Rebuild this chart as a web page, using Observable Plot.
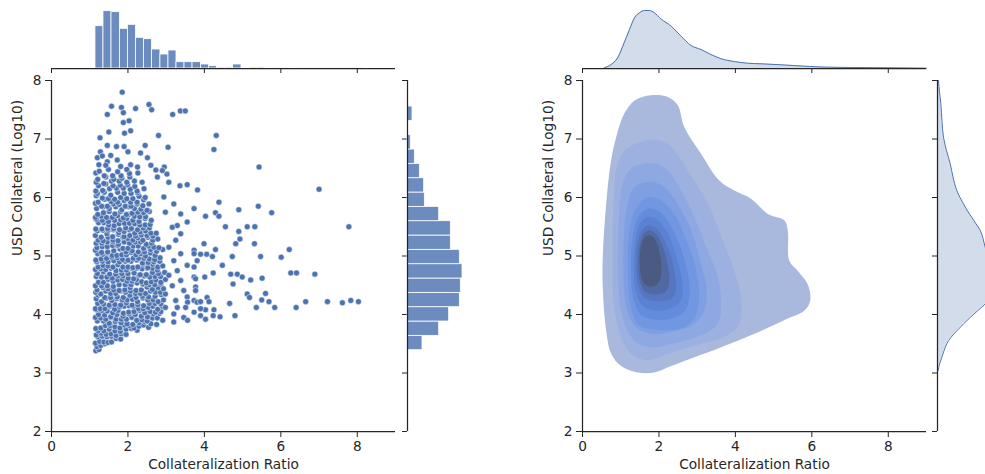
<!DOCTYPE html>
<html><head><meta charset="utf-8">
<script src="https://cdn.jsdelivr.net/npm/d3@7"></script>
<script src="https://cdn.jsdelivr.net/npm/@observablehq/plot@0.6"></script>
<style>
html,body{margin:0;padding:0;background:#fff;overflow:hidden;}
#chart{position:relative;width:985px;height:474px;overflow:hidden;background:#fff;}
.panel{position:absolute;top:0;}
</style></head><body><div id="chart"></div>
<script>
// ---------------- data ----------------
const xLabel = "Collateralization Ratio";
const yLabel = "USD Collateral (Log10)";
const xTicks = [0, 2, 4, 6, 8];
const yTicks = [2, 3, 4, 5, 6, 7, 8];

// marginal histogram of Collateralization Ratio (bin edges, counts)
const ratioBinEdges = [1.15,1.36,1.57,1.79,2.00,2.21,2.42,2.63,2.85,3.06,3.27,3.48,3.69,3.91,4.12,4.33,4.54,4.75,4.97,5.18,5.39,5.60,5.81,6.03,6.24,6.45,6.66,6.87,7.09,7.30,7.51,7.72,7.93,8.15];
const ratioBinCounts = [127,172,169,119,131,92,88,57,42,54,19,19,19,12,7,3,3,12,0,3,3,2,1,1,2,1,1,1,1,1,1,1,1];

// marginal histogram of USD Collateral (Log10)
const usdBinEdges = [3.39,3.635,3.88,4.125,4.37,4.615,4.86,5.105,5.35,5.595,5.84,6.085,6.33,6.575,6.82,7.065,7.31,7.555,7.80];
const usdBinCounts = [45,95,125,157,160,165,157,130,130,95,52,50,37,22,10,1,15,1];

// marginal KDE curves (relative density)
const kdeRatioGrid = [0.57,0.75,0.92,1.09,1.23,1.36,1.49,1.62,1.75,1.88,2.05,2.32,2.58,2.84,3.10,3.36,3.63,3.97,4.32,4.67,5.20,5.81,6.42,7.10,7.99,9.00];
const kdeRatioDensity = [0.7,4,10.7,25.7,39,50.7,55.7,58,58,55.7,49.7,42.3,32.3,23,19,14,9.7,7,5.3,4.7,3.7,2.3,1.3,1,0.7,0.3];
const kdeUsdGrid = [3.04,3.15,3.27,3.38,3.50,3.61,3.72,3.84,3.95,4.07,4.18,4.30,4.45,4.60,4.75,4.90,5.02,5.15,5.30,5.44,5.55,5.66,5.77,5.89,6.00,6.12,6.35,6.58,6.80,7.03,7.30,7.61,7.80,8.00];
const kdeUsdDensity = [0.5,2,4.3,6.5,9.3,13.5,19.3,26,32.7,40.5,47.7,53,57,58.5,57.5,54,50.5,47.7,45.5,42.7,38.5,34.3,30,26,22.5,19.3,15.5,12.7,9,6,4.5,3.3,2,1];

// bivariate KDE filled levels (outer -> inner), vertices [ratio, log10 usd]
const kdeLevels = [
 [[1.79,7.75],[1.36,7.66],[1.09,7.43],[0.88,7.03],[0.75,6.64],[0.62,5.89],[0.53,4.98],[0.53,4.47],[0.62,3.72],[0.75,3.33],[1.01,3.12],[1.44,3.01],[1.88,3.01],[2.32,3.12],[2.93,3.27],[3.63,3.44],[4.50,3.67],[5.37,3.93],[5.81,4.07],[5.96,4.24],[5.89,4.52],[5.63,4.75],[5.41,4.92],[5.37,5.44],[5.28,5.61],[4.85,5.72],[4.41,5.98],[3.97,6.12],[3.58,6.29],[3.10,6.75],[2.66,7.21],[2.49,7.58],[2.23,7.72]],
 [[1.71,6.98],[1.18,6.84],[0.92,6.58],[0.81,5.89],[0.78,4.98],[0.82,4.18],[1.01,3.61],[1.27,3.33],[1.71,3.22],[2.23,3.33],[3.10,3.50],[3.71,3.61],[4.10,3.84],[4.15,4.29],[3.97,4.75],[3.71,5.21],[3.28,5.89],[2.75,6.46],[2.40,6.81],[2.14,6.95]],
 [[1.62,6.58],[1.27,6.49],[1.05,6.24],[0.95,5.61],[0.92,4.75],[1.01,4.07],[1.18,3.72],[1.44,3.50],[1.88,3.44],[2.49,3.52],[3.19,3.67],[3.54,3.84],[3.63,4.18],[3.54,4.64],[3.28,5.09],[2.93,5.66],[2.58,6.12],[2.23,6.46],[1.97,6.57]],
 [[1.66,6.26],[1.36,6.18],[1.18,5.89],[1.08,5.32],[1.07,4.64],[1.17,4.07],[1.40,3.78],[1.79,3.67],[2.32,3.70],[2.84,3.81],[3.15,4.01],[3.25,4.41],[3.10,4.87],[2.84,5.44],[2.49,5.89],[2.14,6.18],[1.88,6.26]],
 [[1.71,6.01],[2.05,5.95],[2.40,5.72],[2.72,5.27],[2.98,4.75],[3.05,4.30],[2.93,3.95],[2.58,3.76],[1.97,3.74],[1.46,3.82],[1.24,4.22],[1.18,4.81],[1.22,5.38],[1.40,5.82]],
 [[1.72,5.81],[2.00,5.76],[2.28,5.55],[2.56,5.15],[2.76,4.70],[2.80,4.35],[2.70,4.08],[2.42,3.95],[1.95,3.91],[1.52,4.00],[1.32,4.32],[1.27,4.82],[1.31,5.30],[1.45,5.66]],
 [[1.72,5.67],[1.96,5.62],[2.20,5.42],[2.42,5.06],[2.58,4.66],[2.62,4.38],[2.52,4.19],[2.28,4.10],[1.92,4.07],[1.58,4.15],[1.39,4.42],[1.34,4.85],[1.38,5.25],[1.50,5.55]],
 [[1.72,5.52],[1.93,5.47],[2.13,5.28],[2.32,4.98],[2.43,4.65],[2.44,4.42],[2.35,4.28],[2.15,4.24],[1.88,4.23],[1.62,4.29],[1.45,4.52],[1.40,4.87],[1.43,5.20],[1.55,5.43]],
 [[1.73,5.44],[1.90,5.39],[2.06,5.22],[2.20,4.95],[2.27,4.66],[2.25,4.47],[2.15,4.38],[1.98,4.35],[1.80,4.35],[1.62,4.40],[1.50,4.58],[1.46,4.88],[1.49,5.17],[1.59,5.37]],
 [[1.74,5.36],[1.87,5.31],[1.98,5.15],[2.05,4.93],[2.06,4.70],[2.00,4.56],[1.88,4.49],[1.74,4.48],[1.61,4.53],[1.53,4.65],[1.50,4.88],[1.52,5.12],[1.61,5.30]]
];
const kdeLevelColors = ["#a9b9de","#9cb1e0","#8ea8e2","#809fe3","#7196e2","#638cdd","#5a81d2","#5676bf","#5169a3","#4a5a80"];

// scatter: dense core of points [ratio, log10 usd]
const scatterCorePoints = [
 [1.16,3.38],[1.24,3.40],
 [1.19,3.45],[1.29,3.47],[1.39,3.50],
 [1.15,3.51],[1.26,3.54],[1.37,3.53],[1.48,3.52],[1.57,3.53],
 [1.21,3.62],[1.33,3.63],[1.45,3.62],[1.57,3.63],[1.69,3.59],[1.81,3.58],
 [1.17,3.65],[1.30,3.68],[1.43,3.66],[1.56,3.67],[1.69,3.64],[1.82,3.67],[1.95,3.66],
 [1.22,3.72],[1.37,3.72],[1.51,3.75],[1.66,3.72],[1.80,3.71],[1.95,3.75],[2.09,3.76],[2.24,3.73],
 [1.16,3.76],[1.29,3.77],[1.41,3.81],[1.54,3.81],[1.66,3.79],[1.79,3.77],[1.91,3.82],[2.04,3.81],[2.16,3.77],[2.29,3.80],[2.41,3.82],[2.54,3.78],
 [1.20,3.89],[1.36,3.89],[1.51,3.85],[1.67,3.88],[1.82,3.86],[1.98,3.84],[2.13,3.83],[2.29,3.86],[2.44,3.88],[2.60,3.84],[2.75,3.83],
 [1.15,3.95],[1.29,3.94],[1.42,3.92],[1.56,3.95],[1.69,3.92],[1.83,3.92],[1.96,3.92],[2.10,3.95],[2.23,3.90],[2.37,3.91],[2.50,3.89],[2.64,3.94],[2.77,3.94],[2.91,3.90],
 [1.23,4.00],[1.39,3.99],[1.55,3.96],[1.71,4.00],[1.87,3.97],[2.03,4.01],[2.19,4.00],[2.35,3.97],[2.51,3.96],[2.67,4.01],[2.83,4.02],
 [1.18,4.08],[1.32,4.07],[1.46,4.06],[1.60,4.03],[1.74,4.07],[1.88,4.02],[2.02,4.04],[2.16,4.05],[2.30,4.07],[2.44,4.03],[2.58,4.05],[2.72,4.04],[2.86,4.05],
 [1.15,4.10],[1.28,4.10],[1.40,4.10],[1.53,4.14],[1.65,4.09],[1.78,4.13],[1.90,4.14],[2.03,4.15],[2.15,4.14],[2.28,4.10],[2.40,4.10],[2.53,4.12],[2.65,4.14],[2.78,4.09],[2.90,4.14],
 [1.21,4.19],[1.36,4.18],[1.51,4.16],[1.66,4.17],[1.81,4.16],[1.96,4.20],[2.11,4.16],[2.26,4.17],[2.41,4.15],[2.56,4.19],[2.71,4.19],[2.86,4.18],
 [1.17,4.27],[1.31,4.22],[1.44,4.28],[1.58,4.24],[1.71,4.27],[1.85,4.25],[1.98,4.25],[2.12,4.26],[2.25,4.22],[2.39,4.28],[2.52,4.25],[2.66,4.25],[2.79,4.22],[2.93,4.25],
 [1.22,4.33],[1.39,4.29],[1.55,4.29],[1.72,4.30],[1.88,4.29],[2.05,4.33],[2.21,4.29],[2.38,4.31],[2.54,4.30],[2.71,4.31],[2.87,4.34],
 [1.16,4.38],[1.29,4.35],[1.42,4.40],[1.55,4.36],[1.68,4.36],[1.81,4.40],[1.94,4.38],[2.07,4.40],[2.20,4.36],[2.33,4.36],[2.46,4.36],[2.59,4.40],[2.72,4.38],[2.85,4.38],[2.98,4.35],
 [1.19,4.42],[1.34,4.46],[1.48,4.44],[1.63,4.42],[1.77,4.41],[1.92,4.42],[2.06,4.46],[2.21,4.41],[2.35,4.42],[2.50,4.47],[2.64,4.43],[2.79,4.46],[2.93,4.44],
 [1.15,4.49],[1.31,4.49],[1.46,4.49],[1.62,4.48],[1.77,4.51],[1.93,4.51],[2.08,4.51],[2.24,4.54],[2.39,4.52],[2.55,4.51],[2.70,4.51],[2.86,4.52],
 [1.23,4.55],[1.36,4.55],[1.48,4.60],[1.61,4.57],[1.73,4.59],[1.86,4.60],[1.98,4.57],[2.11,4.57],[2.23,4.60],[2.36,4.56],[2.48,4.54],[2.61,4.56],[2.73,4.59],[2.86,4.55],[2.98,4.60],
 [1.17,4.65],[1.31,4.64],[1.45,4.64],[1.59,4.62],[1.73,4.66],[1.87,4.66],[2.01,4.62],[2.15,4.61],[2.29,4.67],[2.43,4.66],[2.57,4.64],[2.71,4.65],[2.85,4.65],
 [1.20,4.70],[1.36,4.73],[1.52,4.69],[1.68,4.69],[1.84,4.70],[2.00,4.70],[2.16,4.71],[2.32,4.68],[2.48,4.68],[2.64,4.72],[2.80,4.70],[2.96,4.72],
 [1.15,4.77],[1.29,4.78],[1.42,4.77],[1.56,4.79],[1.69,4.75],[1.83,4.76],[1.96,4.76],[2.10,4.79],[2.23,4.79],[2.37,4.78],[2.50,4.79],[2.64,4.79],[2.77,4.76],
 [1.22,4.81],[1.35,4.84],[1.48,4.83],[1.61,4.81],[1.74,4.85],[1.87,4.81],[2.00,4.81],[2.13,4.80],[2.26,4.81],[2.39,4.86],[2.52,4.80],[2.65,4.86],[2.78,4.81],[2.91,4.83],
 [1.18,4.90],[1.33,4.91],[1.48,4.90],[1.63,4.92],[1.78,4.90],[1.93,4.91],[2.08,4.91],[2.23,4.93],[2.38,4.88],[2.53,4.89],[2.68,4.90],[2.83,4.91],
 [1.16,4.93],[1.30,4.95],[1.44,4.96],[1.58,4.98],[1.72,4.97],[1.86,4.94],[2.00,4.93],[2.14,4.96],[2.28,4.96],[2.42,4.96],[2.56,4.95],[2.70,4.94],[2.84,4.97],
 [1.21,5.04],[1.34,5.03],[1.46,5.05],[1.59,5.01],[1.71,5.01],[1.84,5.02],[1.96,5.02],[2.09,5.06],[2.21,5.02],[2.34,5.04],[2.46,5.00],[2.59,5.05],[2.71,5.01],
 [1.15,5.10],[1.31,5.06],[1.47,5.07],[1.63,5.09],[1.79,5.12],[1.95,5.07],[2.11,5.09],[2.27,5.07],[2.43,5.07],[2.59,5.11],[2.75,5.08],[2.91,5.11],
 [1.19,5.14],[1.33,5.16],[1.46,5.16],[1.60,5.18],[1.73,5.18],[1.87,5.13],[2.00,5.13],[2.14,5.17],[2.27,5.17],[2.41,5.13],[2.54,5.17],[2.68,5.15],[2.81,5.14],
 [1.17,5.22],[1.32,5.22],[1.46,5.24],[1.61,5.24],[1.75,5.20],[1.90,5.24],[2.04,5.22],[2.19,5.24],[2.33,5.24],[2.48,5.20],[2.62,5.22],
 [1.22,5.27],[1.35,5.26],[1.48,5.32],[1.61,5.27],[1.74,5.26],[1.87,5.32],[2.00,5.30],[2.13,5.27],[2.26,5.31],[2.39,5.27],[2.52,5.32],[2.65,5.27],[2.78,5.29],
 [1.15,5.35],[1.30,5.32],[1.45,5.38],[1.60,5.33],[1.75,5.37],[1.90,5.33],[2.05,5.35],[2.20,5.34],[2.35,5.36],[2.50,5.35],[2.65,5.34],
 [1.20,5.43],[1.34,5.44],[1.48,5.44],[1.62,5.45],[1.76,5.40],[1.90,5.42],[2.04,5.45],[2.18,5.39],[2.32,5.41],[2.46,5.43],[2.60,5.39],[2.74,5.39],
 [1.16,5.46],[1.32,5.46],[1.47,5.47],[1.63,5.47],[1.78,5.45],[1.94,5.48],[2.09,5.47],[2.25,5.45],[2.40,5.48],[2.56,5.48],
 [1.23,5.57],[1.37,5.57],[1.50,5.53],[1.64,5.52],[1.77,5.55],[1.91,5.56],[2.04,5.56],[2.18,5.55],[2.31,5.53],[2.45,5.53],[2.58,5.54],
 [1.17,5.63],[1.33,5.61],[1.49,5.59],[1.65,5.61],[1.81,5.62],[1.97,5.64],[2.13,5.61],[2.29,5.59],[2.45,5.64],[2.61,5.61],
 [1.15,5.66],[1.30,5.68],[1.44,5.66],[1.59,5.66],[1.73,5.69],[1.88,5.65],[2.02,5.71],[2.17,5.68],[2.31,5.67],[2.46,5.67],
 [1.21,5.71],[1.36,5.74],[1.51,5.76],[1.66,5.72],[1.81,5.76],[1.96,5.71],[2.11,5.73],[2.26,5.75],[2.41,5.74],[2.56,5.76],
 [1.18,5.81],[1.35,5.84],[1.51,5.81],[1.68,5.84],[1.84,5.79],[2.01,5.84],[2.17,5.81],[2.34,5.80],[2.50,5.78],
 [1.15,5.90],[1.31,5.85],[1.46,5.85],[1.62,5.89],[1.77,5.88],[1.93,5.85],[2.08,5.85],[2.24,5.89],[2.39,5.86],[2.55,5.89],
 [1.22,5.92],[1.39,5.97],[1.56,5.93],[1.73,5.92],[1.90,5.95],[2.07,5.92],[2.24,5.92],[2.41,5.96],
 [1.17,6.03],[1.33,5.99],[1.49,5.98],[1.65,5.97],[1.81,6.00],[1.97,5.98],[2.13,5.98],[2.29,6.02],[2.45,6.00],
 [1.20,6.07],[1.38,6.09],[1.55,6.04],[1.73,6.09],[1.90,6.07],[2.08,6.07],[2.25,6.08],
 [1.16,6.11],[1.34,6.12],[1.52,6.15],[1.70,6.16],[1.88,6.16],[2.06,6.14],[2.24,6.11],[2.42,6.15],
 [1.23,6.20],[1.42,6.23],[1.61,6.20],[1.80,6.21],[1.99,6.22],[2.18,6.19],
 [1.17,6.26],[1.37,6.24],[1.57,6.28],[1.77,6.28],[1.97,6.26],[2.17,6.28],[2.37,6.26],
 [1.21,6.31],[1.42,6.35],[1.63,6.31],[1.84,6.33],[2.05,6.35],
 [1.16,6.42],[1.38,6.37],[1.60,6.37],[1.82,6.37],[2.04,6.41],[2.26,6.42],
 [1.25,6.45],[1.49,6.48],[1.73,6.44],[1.97,6.48]
];

// scatter: points outside the dense core [ratio, log10 usd]
const scatterOuterPoints = [
 [1.85,7.80],[1.57,7.56],[1.46,7.42],[1.83,7.54],[1.88,7.45],[2.20,7.52],[2.55,7.59],[2.62,7.50],[3.17,7.42],[3.37,7.48],[3.50,7.48],
 [2.03,7.31],[1.88,7.28],[2.07,7.14],[1.91,7.10],[1.50,7.12],[2.80,7.06],[4.31,7.06],[4.25,6.82],[1.27,7.02],
 [1.46,6.89],[1.70,6.87],[1.90,6.87],[2.00,6.78],[2.45,6.89],[2.33,6.76],[2.51,6.68],[3.05,6.86],[1.28,6.78],
 [1.20,6.68],[1.33,6.71],[1.55,6.72],[1.72,6.64],[1.46,6.61],[5.43,6.52],[7.00,6.14],[1.24,6.56],[1.42,6.55],
 [1.81,6.53],[2.07,6.56],[2.25,6.52],[2.60,6.55],[2.73,6.47],[2.95,6.52],[3.02,6.40],[2.77,6.35],[2.90,6.46],
 [3.36,6.20],[3.55,6.22],[3.82,6.13],[3.07,6.26],[2.94,6.01],[3.20,5.89],[2.98,5.75],[3.38,5.72],[3.73,5.81],
 [3.55,5.58],[3.29,5.52],[3.16,5.49],[3.38,5.38],[3.25,5.27],[3.07,5.15],[3.38,5.04],[3.73,5.10],[3.73,5.04],
 [3.20,4.92],[3.81,4.92],[3.55,4.84],[3.73,4.81],[3.29,4.75],[3.07,4.67],[3.73,4.64],[3.77,4.61],[3.38,4.58],
 [3.16,4.49],[3.77,4.47],[3.46,4.41],[3.77,4.41],[3.55,4.30],[3.25,4.24],[3.73,4.24],[3.56,4.21],[3.81,4.21],
 [2.98,4.12],[3.29,4.12],[3.51,4.12],[3.73,4.04],[3.20,4.01],[3.46,3.95],[3.56,3.90],[3.20,3.87],
 [4.38,5.92],[4.03,5.68],[4.29,5.74],[4.38,5.68],[4.90,5.79],[5.41,5.85],[5.76,5.74],[4.55,5.50],[4.90,5.42],
 [5.12,5.50],[5.32,5.50],[7.78,5.50],[4.93,5.29],
 [3.99,5.21],[4.82,5.21],[5.31,5.21],[6.22,5.11],[4.29,5.11],[3.90,5.03],[4.06,5.03],[4.21,4.99],[4.73,4.99],
 [5.47,4.99],[6.01,4.98],[4.47,4.84],[4.23,4.71],[4.01,4.64],[4.69,4.69],[4.86,4.69],[4.99,4.64],[5.21,4.59],
 [5.51,4.62],[6.26,4.71],[6.41,4.71],[6.89,4.69],[4.75,4.52],[5.12,4.35],[5.18,4.29],[5.60,4.36],[5.50,4.25],
 [5.69,4.22],[4.07,4.29],[4.12,4.22],[3.90,4.22],[4.66,4.19],[5.36,4.12],[5.84,4.12],[6.40,4.12],[6.65,4.22],
 [7.22,4.22],[7.61,4.20],[7.83,4.24],[8.03,4.22],[4.03,4.08],[4.25,4.08],[3.90,4.10],[3.90,3.98],[4.23,3.98],
 [4.41,3.96],[4.80,3.98],[4.03,3.92]
];

// ---------------- tables built from the arrays ----------------
const scatter = scatterCorePoints.concat(scatterOuterPoints).map(([r, u]) => ({ratio: r, usd: u}));
const ratioBins = ratioBinCounts.map((c, i) => ({x0: ratioBinEdges[i], x1: ratioBinEdges[i + 1], count: c}));
const usdBins = usdBinCounts.map((c, i) => ({y0: usdBinEdges[i], y1: usdBinEdges[i + 1], count: c}));
const kdeRatio = kdeRatioGrid.map((v, i) => ({ratio: v, d: kdeRatioDensity[i]}));
const kdeUsd = kdeUsdGrid.map((v, i) => ({usd: v, d: kdeUsdDensity[i]}));

// ---------------- styling ----------------
const INK = "#262626";
const BLUE = "#4c72b0";
const FS = 13.7;
const style = {fontFamily: "DejaVu Sans", fontSize: FS + "px", color: INK, background: "transparent", maxWidth: "none"};
const blank = () => "";

function place(svg, left, width) {
  const d = document.createElement("div");
  d.className = "panel";
  d.style.left = left + "px";
  d.style.width = width + "px";
  d.appendChild(svg);
  document.getElementById("chart").appendChild(d);
}

function mainPlot(dataMarks, ml, mr) {
  return Plot.plot({
    width: 400, height: 474, marginLeft: ml, marginRight: mr, marginTop: 80, marginBottom: 43,
    style,
    x: {domain: [0, 9], ticks: xTicks, tickSize: 6, tickPadding: 4, tickFormat: "d", label: null},
    y: {domain: [2, 8], ticks: yTicks, tickSize: 6, tickPadding: 4, tickFormat: "d", label: null},
    marks: [
      ...dataMarks,
      Plot.ruleX([0], {stroke: INK, strokeWidth: 1.25}),
      Plot.ruleY([2], {stroke: INK, strokeWidth: 1.25}),
      Plot.text([xLabel], {frameAnchor: "bottom", dy: 37, fill: INK, fontSize: FS}),
      Plot.text([yLabel], {frameAnchor: "left", dx: -34, rotate: -90, fill: INK, fontSize: FS})
    ]
  });
}

function topMarginal(dataMarks, ml, mr, ymax) {
  return Plot.plot({
    width: 400, height: 76, marginLeft: ml, marginRight: mr, marginTop: 8, marginBottom: 8,
    style,
    x: {domain: [0, 9], ticks: xTicks, tickSize: 5, tickFormat: blank, label: null},
    y: {domain: [0, ymax], axis: null},
    marks: [...dataMarks, Plot.ruleY([0], {stroke: INK, strokeWidth: 1.25})]
  });
}

function sideMarginal(dataMarks, w, xmax) {
  return Plot.plot({
    width: w, height: 474, marginLeft: 7, marginRight: w - 67, marginTop: 80, marginBottom: 43,
    style,
    x: {domain: [0, xmax], axis: null},
    y: {domain: [2, 8], ticks: yTicks, tickSize: 5, tickFormat: blank, label: null},
    marks: [...dataMarks, Plot.ruleX([0], {stroke: INK, strokeWidth: 1.25})]
  });
}

// ---------------- left joint plot ----------------
place(mainPlot([
  Plot.dot(scatter, {x: "ratio", y: "usd", r: 3, fill: BLUE, stroke: "white", strokeWidth: 0.5})
], 51, 5), 0, 400);

place(topMarginal([
  Plot.rectY(ratioBins, {x1: "x0", x2: "x1", y: "count", fill: BLUE, fillOpacity: 0.82, stroke: "white", strokeWidth: 0.8})
], 51, 5, 180), 0, 400);

place(sideMarginal([
  Plot.rectX(usdBins, {y1: "y0", y2: "y1", x: "count", fill: BLUE, fillOpacity: 0.82, stroke: "white", strokeWidth: 0.8})
], 75, 180), 400, 75);

// ---------------- right joint plot ----------------
place(mainPlot(
  kdeLevels.map((poly, i) => Plot.line(poly, {x: d => d[0], y: d => d[1], curve: "catmull-rom-closed", fill: kdeLevelColors[i], stroke: "none"}))
, 52, 4), 530, 400);

place(topMarginal([
  Plot.areaY(kdeRatio, {x: "ratio", y: "d", curve: "monotone-x", fill: BLUE, fillOpacity: 0.25}),
  Plot.lineY(kdeRatio, {x: "ratio", y: "d", curve: "monotone-x", stroke: BLUE, strokeWidth: 1})
], 52, 4, 60), 530, 400);

place(sideMarginal([
  Plot.areaX(kdeUsd, {y: "usd", x: "d", curve: "monotone-y", fill: BLUE, fillOpacity: 0.25}),
  Plot.lineX(kdeUsd, {y: "usd", x: "d", curve: "monotone-y", stroke: BLUE, strokeWidth: 1})
], 70, 60), 930, 70);
</script>
</body></html>
